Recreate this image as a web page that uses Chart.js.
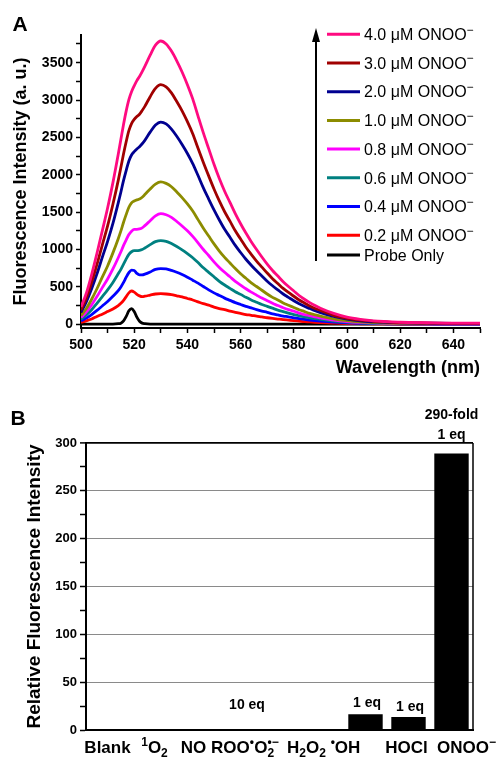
<!DOCTYPE html>
<html><head><meta charset="utf-8">
<script src="https://cdn.jsdelivr.net/npm/chart.js@4.4.1/dist/chart.umd.min.js"></script>
<style>
html,body{margin:0;padding:0;background:#fff;}
#wrap{position:relative;width:501px;height:759px;overflow:hidden;}
#ca{position:absolute;left:0;top:0;}
#cb{position:absolute;left:0;top:390px;}
</style></head><body>
<div id="wrap">
<canvas id="ca" width="501" height="390"></canvas>
<canvas id="cb" width="501" height="369"></canvas>
</div>
<script>
// ---------- Panel A data ----------
const wavelengths = [500,502,504,506,508,510,512,514,515,516,517,518,519,520,521,522,523,524,526,528,530,532,534,536,538,540,542,544,546,548,550,552,554,556,558,560,562,564,566,568,570,572,574,576,578,580,582,584,586,588,590,595,600,605,610,615,620,630,640,650];
const onoo40 = [230,415,665,950,1250,1555,1895,2275,2475,2675,2855,3005,3110,3190,3260,3315,3380,3450,3600,3735,3790,3750,3655,3525,3375,3205,3015,2785,2560,2350,2140,1950,1780,1630,1480,1345,1220,1105,1000,900,805,720,645,570,505,445,385,335,290,250,215,145,95,65,45,35,27,20,15,15];
const onoo30 = [190,350,560,800,1060,1315,1605,1925,2100,2280,2445,2590,2685,2740,2780,2810,2860,2915,3045,3155,3205,3175,3095,2980,2855,2710,2550,2355,2165,1985,1810,1650,1505,1380,1250,1140,1030,935,845,765,685,610,545,480,425,375,325,285,245,210,185,120,80,55,40,30,22,16,13,13];
const onoo20 = [160,300,475,675,895,1110,1350,1625,1770,1925,2060,2185,2265,2310,2345,2375,2415,2460,2570,2665,2705,2680,2610,2515,2405,2285,2150,1990,1825,1675,1530,1395,1270,1165,1055,960,870,790,715,645,575,515,460,405,360,315,275,240,210,180,155,105,70,45,32,24,19,14,11,11];
const onoo10 = [115,210,335,475,630,780,955,1145,1250,1365,1470,1565,1625,1650,1665,1675,1700,1735,1810,1875,1905,1885,1840,1770,1695,1610,1515,1400,1285,1180,1075,980,895,820,745,675,615,555,505,455,405,360,325,285,255,225,195,170,145,125,110,72,48,32,23,17,13,10,8,8];
const onoo08 = [90,165,260,370,490,605,740,890,970,1055,1130,1200,1245,1270,1270,1275,1290,1320,1385,1450,1480,1465,1430,1375,1315,1250,1175,1090,1000,920,835,760,695,635,575,525,475,430,390,350,315,280,250,220,195,175,150,130,115,98,85,56,37,25,18,13,10,7,6,6];
const onoo06 = [65,125,195,280,370,460,560,675,735,805,875,935,970,985,985,990,1000,1020,1065,1105,1120,1110,1080,1040,995,945,890,825,755,695,635,575,525,480,435,400,360,325,295,265,240,215,190,170,150,130,115,100,86,74,64,43,28,19,13,10,8,6,5,5];
const onoo04 = [45,82,130,185,245,305,375,450,500,560,630,690,725,720,680,660,660,670,700,735,745,740,720,695,665,630,590,550,505,460,420,385,350,320,290,265,240,220,195,175,160,140,125,110,100,87,76,66,57,49,42,28,19,13,9,7,5,4,3,3];
const onoo02 = [25,45,70,105,135,170,205,250,280,320,370,420,445,430,400,380,370,375,390,405,410,405,395,380,365,345,325,300,275,255,230,210,195,175,160,145,130,120,108,98,87,78,70,62,55,48,42,36,32,27,23,16,10,7,5,4,3,2,2,2];
const probeOnly = [3,3,3,3,3,3,3,8,15,45,105,180,210,170,95,40,15,8,3,3,3,3,3,3,3,3,3,3,3,3,3,3,3,3,3,3,3,3,3,3,3,3,3,3,3,3,3,3,3,3,3,3,3,3,3,3,3,3,3,3];
const seriesLabels = ['4.0 μM ONOO⁻','3.0 μM ONOO⁻','2.0 μM ONOO⁻','1.0 μM ONOO⁻','0.8 μM ONOO⁻','0.6 μM ONOO⁻','0.4 μM ONOO⁻','0.2 μM ONOO⁻','Probe Only'];
const seriesValues = [onoo40, onoo30, onoo20, onoo10, onoo08, onoo06, onoo04, onoo02, probeOnly];
const seriesColors = ['#FF0A80','#A00000','#000090','#8C8C00','#FF00FF','#008080','#0000FF','#FF0000','#000000'];
const xTickLabels = [500,520,540,560,580,600,620,640];
const yTickLabels = [0,500,1000,1500,2000,2500,3000,3500];

// ---------- Panel B data ----------
const species = ['Blank','¹O₂','NO','ROO•','O₂•⁻','H₂O₂','•OH','HOCl','ONOO⁻'];
const relIntensity = [1.0, 0.6, 0.8, 0.9, 0.8, 0.6, 16.5, 13.7, 289];
const bYTicks = [0,50,100,150,200,250,300];

const FONT = "'Liberation Sans', Arial, Helvetica, sans-serif";
Chart.defaults.font.family = FONT;
Chart.defaults.color = '#000';

const SUP = {'¹':'1','•':'•','⁻':'−'};
const SUB = {'₂':'2'};
function drawRich(ctx, str, cx, cy, size, weight, align) {
  const segs = [];
  for (const ch of str) {
    let m = 'n', c = ch;
    if (SUP[ch]) { m = 'sup'; c = SUP[ch]; } else if (SUB[ch]) { m = 'sub'; c = SUB[ch]; }
    const last = segs[segs.length - 1];
    if (last && last.m === m) last.t += c; else segs.push({m, t: c});
  }
  const small = Math.round(size * 0.72);
  const fN = `${weight} ${size}px ${FONT}`, fS = `${weight} ${small}px ${FONT}`;
  let x = 0; const placed = [];
  for (let i = 0; i < segs.length; i++) {
    const s = segs[i];
    ctx.font = s.m === 'n' ? fN : fS;
    const w = ctx.measureText(s.t).width;
    if (s.m === 'sup' && i > 0 && segs[i-1].m === 'sub') {
      const prev = placed[placed.length - 1];
      placed.push({m: s.m, t: s.t, x: prev.x, w});
      x = Math.max(prev.x + prev.w, prev.x + w);
    } else { placed.push({m: s.m, t: s.t, x, w}); x += w; }
  }
  const x0 = align === 'left' ? cx : cx - x / 2;
  ctx.save();
  ctx.textBaseline = 'alphabetic'; ctx.textAlign = 'left'; ctx.fillStyle = '#000';
  const base = cy + size * 0.36;
  for (const p of placed) {
    ctx.font = p.m === 'n' ? fN : fS;
    const dy = p.m === 'sup' ? -size * 0.40 : (p.m === 'sub' ? size * 0.24 : 0);
    ctx.fillText(p.t, x0 + p.x, base + dy);
  }
  ctx.restore();
}

// ---------- Panel A ----------
const legendPlugin = {
  id: 'legendA',
  afterDraw(chart) {
    const ctx = chart.ctx;
    ctx.save();
    ctx.font = `bold 21px ${FONT}`; ctx.fillStyle = '#000';
    ctx.textAlign = 'center'; ctx.textBaseline = 'middle';
    ctx.fillText('A', 20, 25);
    ctx.strokeStyle = '#000'; ctx.lineWidth = 2;
    ctx.beginPath(); ctx.moveTo(316, 261); ctx.lineTo(316, 38); ctx.stroke();
    ctx.beginPath(); ctx.moveTo(316, 28); ctx.lineTo(320, 42); ctx.lineTo(312, 42); ctx.closePath(); ctx.fillStyle = '#000'; ctx.fill();
    chart.data.datasets.forEach((ds, i) => {
      const y = i < 8 ? 34.3 + 28.7 * i : 255;
      ctx.strokeStyle = ds.borderColor; ctx.lineWidth = 3;
      ctx.beginPath(); ctx.moveTo(327, y); ctx.lineTo(360, y); ctx.stroke();
      drawRich(ctx, ds.label, 364, y, 16, 'normal', 'left');
    });
    ctx.restore();
  }
};

new Chart(document.getElementById('ca'), {
  type: 'line',
  data: {
    datasets: seriesLabels.map((lab, i) => ({
      label: lab,
      data: wavelengths.map((w, j) => ({x: w, y: seriesValues[i][j]})),
      borderColor: seriesColors[i],
      backgroundColor: seriesColors[i],
      borderWidth: 2.8,
      pointRadius: 0,
      cubicInterpolationMode: 'monotone',
      fill: false
    }))
  },
  options: {
    responsive: false, animation: false, events: [],
    layout: {padding: {top: 35, right: 21, left: 0, bottom: 0}},
    plugins: {legend: {display: false}, tooltip: {enabled: false}},
    scales: {
      x: {
        type: 'linear', min: 500, max: 650,
        afterFit: s => { s.height = 62; },
        border: {display: true, color: '#000', width: 2},
        grid: {display: true, drawOnChartArea: false, drawTicks: true, tickLength: 5, color: '#000', tickColor: '#000', tickWidth: 1.5},
        ticks: {stepSize: 10, autoSkip: false, maxRotation: 0, padding: 4,
          font: {size: 14, weight: 'bold'},
          callback: v => xTickLabels.includes(v) ? String(v) : ''},
        title: {display: true, text: 'Wavelength (nm)', align: 'end', font: {size: 18, weight: 'bold'}, padding: {top: 0, bottom: 11}}
      },
      y: {
        min: -50, max: 3870,
        afterFit: s => { s.width = 81; },
        afterBuildTicks: s => { const t = []; for (let v = 0; v <= 3750; v += 250) t.push({value: v}); s.ticks = t; },
        border: {display: true, color: '#000', width: 2},
        grid: {display: true, drawOnChartArea: false, drawTicks: true, tickLength: 5, color: '#000', tickColor: '#000', tickWidth: 1.5},
        ticks: {autoSkip: false, padding: 3, font: {size: 14, weight: 'bold'},
          callback: v => yTickLabels.includes(v) ? String(v) : ''},
        title: {display: true, text: 'Fluorescence Intensity (a. u.)', font: {size: 18, weight: 'bold'}, padding: {top: 10, bottom: 0}}
      }
    }
  },
  plugins: [legendPlugin]
});

// ---------- Panel B ----------
const labelNudge = [0, 4, 0, -4, -13, -16, -20, -2, 15];
const bPlugin = {
  id: 'panelB',
  afterDraw(chart) {
    const ctx = chart.ctx, xs = chart.scales.x, ys = chart.scales.y, ca = chart.chartArea;
    ctx.save();
    ctx.font = `bold 21px ${FONT}`; ctx.fillStyle = '#000';
    ctx.textAlign = 'center'; ctx.textBaseline = 'middle';
    ctx.fillText('B', 18, 29);
    ctx.strokeStyle = '#000'; ctx.lineWidth = 1.5;
    ctx.beginPath(); ctx.moveTo(ca.right, ca.top); ctx.lineTo(ca.right, ca.bottom); ctx.stroke();
    species.forEach((s, i) => drawRich(ctx, s, xs.getPixelForValue(i) + labelNudge[i], ca.bottom + 17, 17, 'bold', 'center'));
    ctx.font = `bold 14px ${FONT}`; ctx.textAlign = 'center'; ctx.textBaseline = 'middle';
    ctx.fillText('10 eq', xs.getPixelForValue(3) + 10.5, ys.getPixelForValue(26));
    ctx.fillText('1 eq', xs.getPixelForValue(6) + 1.5, ys.getPixelForValue(relIntensity[6]) - 11);
    ctx.fillText('1 eq', xs.getPixelForValue(7) + 1.5, ys.getPixelForValue(relIntensity[7]) - 10);
    ctx.fillText('1 eq', xs.getPixelForValue(8), ys.getPixelForValue(relIntensity[8]) - 18.5);
    ctx.fillText('290-fold', xs.getPixelForValue(8), ys.getPixelForValue(relIntensity[8]) - 38.5);
    ctx.restore();
  }
};

new Chart(document.getElementById('cb'), {
  type: 'bar',
  data: {
    labels: species,
    datasets: [{data: relIntensity, backgroundColor: '#000', borderWidth: 0, barPercentage: 0.8, categoryPercentage: 1.0}]
  },
  options: {
    responsive: false, animation: false, events: [],
    layout: {padding: {top: 53, right: 28, left: 0, bottom: 0}},
    plugins: {legend: {display: false}, tooltip: {enabled: false}},
    scales: {
      x: {
        type: 'category',
        afterFit: s => { s.height = 29; },
        border: {display: true, color: '#000', width: 2},
        grid: {display: false},
        ticks: {display: false}
      },
      y: {
        min: 0, max: 300,
        afterFit: s => { s.width = 86; },
        border: {display: true, color: '#000', width: 2},
        grid: {
          drawOnChartArea: true, drawTicks: true, tickLength: 6, tickColor: '#000', tickWidth: 1.5,
          color: c => c.tick.value === 300 ? '#000' : (c.tick.value % 50 === 0 ? '#8a8a8a' : 'rgba(0,0,0,0)'),
          lineWidth: c => c.tick.value === 300 ? 1.8 : 1
        },
        ticks: {stepSize: 25, autoSkip: false, padding: 3, font: {size: 13, weight: 'bold'},
          callback: v => bYTicks.includes(v) ? String(v) : ''},
        title: {display: true, text: 'Relative Fluorescence Intensity', font: {size: 19, weight: 'bold'}, padding: {top: 23, bottom: 0}}
      }
    }
  },
  plugins: [bPlugin]
});
</script>
</body></html>
